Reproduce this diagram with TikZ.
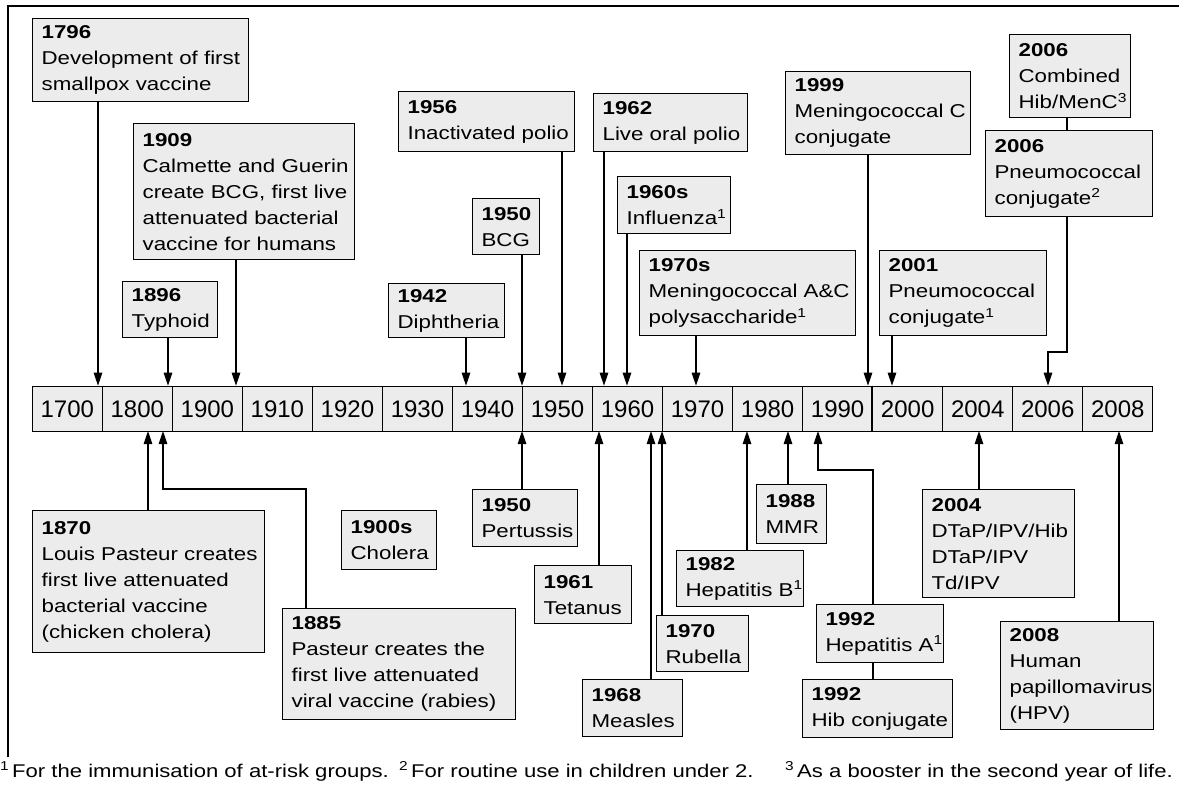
\documentclass[tikz,border=0pt]{standalone}
\usepackage{fontspec}
\setmainfont{Liberation Sans}
\newfontfamily\boxfont[FakeStretch=1.2]{Liberation Sans}
\usetikzlibrary{arrows.meta}
\definecolor{boxfill}{gray}{0.925}
\tikzset{
  ev/.style={draw=black, line width=1.2pt, fill=boxfill, anchor=north west,
    align=left, inner xsep=9pt, inner ysep=0pt,
    font=\boxfont\fontsize{18.6}{26}\selectfont},
  cell/.style={draw=black, line width=1.2pt, fill=boxfill, anchor=north west,
    minimum width=70.03pt, minimum height=45.3pt, inner sep=0pt,
    font=\fontsize{24}{28}\selectfont},
  conn/.style={line width=1.2pt},
  arr/.style={line width=1.2pt, -{Triangle[width=8.5pt,length=13pt]}},
  fn/.style={anchor=base west, inner sep=0pt, font=\boxfont\fontsize{18.4}{22}\selectfont}
}
\begin{document}
\begin{tikzpicture}[x=1pt,y=-1pt]
\useasboundingbox (0,0) rectangle (1179,796);
% frame
\draw[line width=2pt] (8,757) -- (8,6) -- (1180,6);
% timeline
\foreach \lab [count=\i] in {1700,1800,1900,1910,1920,1930,1940,1950,1960,1970,1980,1990,2000,2004,2006,2008}
  \node[cell] (t\i) at ({31.7+(\i-1)*70.03},385.7) {\lab};
\draw[line width=2.4pt] (t13.north west) -- (t13.south west);
% arrow tip coordinates (top)
\coordinate (a1796) at (98,385.7);
\coordinate (a1896) at (168,385.7);
\coordinate (a1909) at (236,385.7);
\coordinate (a1942) at (466,385.7);
\coordinate (a1950b) at (522,385.7);
\coordinate (a1956) at (562,385.7);
\coordinate (a1962) at (604,385.7);
\coordinate (a1960s) at (627,385.7);
\coordinate (a1970s) at (696,385.7);
\coordinate (a1999) at (868,385.7);
\coordinate (a2001) at (892,385.7);
\coordinate (a2006) at (1048,385.7);
\coordinate (j2006) at (1067,352);
% arrow tip coordinates (bottom)
\coordinate (a1870) at (148,431);
\coordinate (a1885) at (163,431);
\coordinate (j1885) at (306,489);
\coordinate (a1950p) at (522,431);
\coordinate (a1961) at (599,431);
\coordinate (a1968) at (651,431);
\coordinate (a1970) at (662,431);
\coordinate (a1982) at (747,431);
\coordinate (a1988) at (788,431);
\coordinate (a1992) at (818,431);
\coordinate (j1992) at (873,470);
\coordinate (a2004) at (979,431);
\coordinate (a2008) at (1119,431);
% top boxes
\node[ev, text width=198pt, minimum height=83pt] (b1796) at (32,18)
  {\textbf{1796}\\\mbox{Development of first}\\\mbox{smallpox vaccine}};
\node[ev, text width=203pt, minimum height=136pt] (b1909) at (133,123)
  {\textbf{1909}\\\mbox{Calmette and Guerin}\\\mbox{create BCG, first live}\\\mbox{attenuated bacterial}\\\mbox{vaccine for humans}};
\node[ev, text width=77pt, minimum height=56pt] (b1896) at (122,281)
  {\textbf{1896}\\\mbox{Typhoid}};
\node[ev, text width=98pt, minimum height=54pt] (b1942) at (388,283)
  {\textbf{1942}\\\mbox{Diphtheria}};
\node[ev, text width=49pt, minimum height=56pt] (b1950b) at (472,198)
  {\textbf{1950}\\\mbox{BCG}};
\node[ev, text width=158pt, minimum height=60pt] (b1956) at (398,91)
  {\textbf{1956}\\\mbox{Inactivated polio}};
\node[ev, text width=136pt, minimum height=58pt] (b1962) at (593,93)
  {\textbf{1962}\\\mbox{Live oral polio}};
\node[ev, text width=95pt, minimum height=57pt] (b1960s) at (617,176)
  {\textbf{1960s}\\\mbox{Influenza\textsuperscript{1}}};
\node[ev, text width=198pt, minimum height=85pt] (b1970s) at (639,250)
  {\textbf{1970s}\\\mbox{Meningococcal A\&C}\\\mbox{polysaccharide\textsuperscript{1}}};
\node[ev, text width=167pt, minimum height=83pt] (b1999) at (785,71)
  {\textbf{1999}\\\mbox{Meningococcal C}\\\mbox{conjugate}};
\node[ev, text width=149pt, minimum height=85pt] (b2001) at (879,250)
  {\textbf{2001}\\\mbox{Pneumococcal}\\\mbox{conjugate\textsuperscript{1}}};
\node[ev, text width=103pt, minimum height=83pt] (b2006a) at (1009,34)
  {\textbf{2006}\\\mbox{Combined}\\\mbox{Hib/MenC\textsuperscript{3}}};
\node[ev, text width=149pt, minimum height=86pt] (b2006b) at (985,130)
  {\textbf{2006}\\\mbox{Pneumococcal}\\\mbox{conjugate\textsuperscript{2}}};
% bottom boxes
\node[ev, text width=214pt, minimum height=142pt] (b1870) at (32,510)
  {\textbf{1870}\\\mbox{Louis Pasteur creates}\\\mbox{first live attenuated}\\\mbox{bacterial vaccine}\\\mbox{(chicken cholera)}};
\node[ev, text width=215pt, minimum height=111pt] (b1885) at (282,608)
  {\textbf{1885}\\\mbox{Pasteur creates the}\\\mbox{first live attenuated}\\\mbox{viral vaccine (rabies)}};
\node[ev, text width=77pt, minimum height=59pt] (b1900s) at (341,510)
  {\textbf{1900s}\\\mbox{Cholera}};
\node[ev, text width=87pt, minimum height=57pt] (b1950p) at (472,489)
  {\textbf{1950}\\\mbox{Pertussis}};
\node[ev, text width=79pt, minimum height=58pt] (b1961) at (534,565)
  {\textbf{1961}\\\mbox{Tetanus}};
\node[ev, text width=82pt, minimum height=57pt] (b1968) at (582,679)
  {\textbf{1968}\\\mbox{Measles}};
\node[ev, text width=74pt, minimum height=56pt] (b1970r) at (656,615)
  {\textbf{1970}\\\mbox{Rubella}};
\node[ev, text width=109pt, minimum height=56pt] (b1982) at (676,550)
  {\textbf{1982}\\\mbox{Hepatitis B\textsuperscript{1}}};
\node[ev, text width=52pt, minimum height=59pt] (b1988) at (756,484)
  {\textbf{1988}\\\mbox{MMR}};
\node[ev, text width=109pt, minimum height=58pt] (b1992a) at (816,604)
  {\textbf{1992}\\\mbox{Hepatitis A\textsuperscript{1}}};
\node[ev, text width=132pt, minimum height=58pt] (b1992h) at (802,679)
  {\textbf{1992}\\\mbox{Hib conjugate}};
\node[ev, text width=134pt, minimum height=108pt] (b2004) at (922,489)
  {\textbf{2004}\\\mbox{DTaP/IPV/Hib}\\\mbox{DTaP/IPV}\\\mbox{Td/IPV}};
\node[ev, text width=135pt, minimum height=108pt] (b2008) at (1000,621)
  {\textbf{2008}\\\mbox{Human}\\\mbox{papillomavirus}\\\mbox{(HPV)}};
% top connectors
\draw[arr] (b1796.south -| a1796) -- (a1796);
\draw[arr] (b1896.south -| a1896) -- (a1896);
\draw[arr] (b1909.south -| a1909) -- (a1909);
\draw[arr] (b1942.south -| a1942) -- (a1942);
\draw[arr] (b1950b.south -| a1950b) -- (a1950b);
\draw[arr] (b1956.south -| a1956) -- (a1956);
\draw[arr] (b1962.south -| a1962) -- (a1962);
\draw[arr] (b1960s.south -| a1960s) -- (a1960s);
\draw[arr] (b1970s.south -| a1970s) -- (a1970s);
\draw[arr] (b1999.south -| a1999) -- (a1999);
\draw[arr] (b2001.south -| a2001) -- (a2001);
\draw[conn] (b2006a.south -| j2006) -- (b2006b.north -| j2006);
\draw[arr] (b2006b.south -| j2006) -- (j2006) -- (j2006 -| a2006) -- (a2006);
% bottom connectors
\draw[arr] (b1870.north -| a1870) -- (a1870);
\draw[arr] (b1885.north -| j1885) -- (j1885) -- (j1885 -| a1885) -- (a1885);
\draw[arr] (b1950p.north -| a1950p) -- (a1950p);
\draw[arr] (b1961.north -| a1961) -- (a1961);
\draw[arr] (b1968.north -| a1968) -- (a1968);
\draw[arr] (b1970r.north -| a1970) -- (a1970);
\draw[arr] (b1982.north -| a1982) -- (a1982);
\draw[arr] (b1988.north -| a1988) -- (a1988);
\draw[arr] (b1992a.north -| j1992) -- (j1992) -- (j1992 -| a1992) -- (a1992);
\draw[conn] (b1992h.north -| j1992) -- (b1992a.south -| j1992);
\draw[arr] (b2004.north -| a2004) -- (a2004);
\draw[arr] (b2008.north -| a2008) -- (a2008);
% footnotes
\node[fn] (fn1) at (12,777) {\llap{\textsuperscript{1}\,}For the immunisation of at-risk groups.};
\node[fn] (fn2) at (411,777) {\llap{\textsuperscript{2}\,}For routine use in children under 2.};
\node[fn] (fn3) at (797,777) {\llap{\textsuperscript{3}\,}As a booster in the second year of life.};
\end{tikzpicture}
\end{document}
